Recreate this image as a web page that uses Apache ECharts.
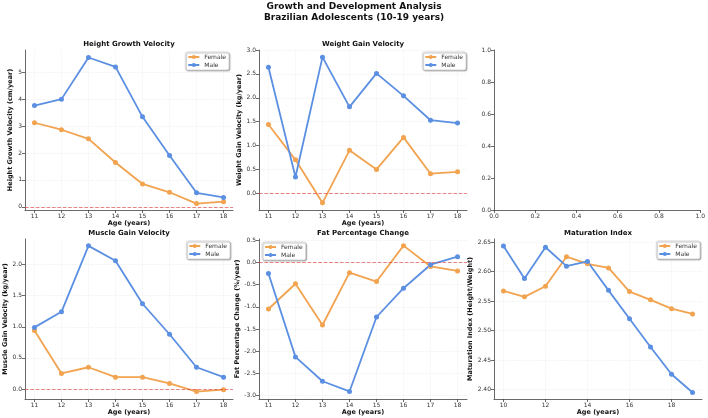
<!DOCTYPE html>
<html>
<head>
<meta charset="UTF-8">
<title>Growth and Development Analysis</title>
<style>
  html, body { margin:0; padding:0; background:#fff; }
  #main { width:708px; height:418px; }
</style>
</head>
<body>
<div id="main"></div>
<script src="https://cdn.jsdelivr.net/npm/echarts@6/dist/echarts.min.js"></script>
<script>
// ages on the x axis
var ages = [11, 12, 13, 14, 15, 16, 17, 18];
var agesMat = [10, 11, 12, 13, 14, 15, 16, 17, 18, 19];

// values
var heightFemale = [3.13, 2.87, 2.53, 1.65, 0.85, 0.54, 0.12, 0.19];
var heightMale   = [3.77, 4.01, 5.56, 5.21, 3.35, 1.91, 0.52, 0.35];
var weightFemale = [1.44, 0.70, -0.20, 0.90, 0.50, 1.17, 0.41, 0.45];
var weightMale   = [2.64, 0.34, 2.85, 1.81, 2.51, 2.04, 1.53, 1.47];
var muscleFemale = [0.94, 0.25, 0.35, 0.19, 0.19, 0.09, -0.04, -0.01];
var muscleMale   = [0.99, 1.24, 2.30, 2.06, 1.37, 0.88, 0.35, 0.19];
var fatFemale    = [-1.05, -0.48, -1.41, -0.23, -0.43, 0.38, -0.09, -0.19];
var fatMale      = [-0.25, -2.13, -2.68, -2.91, -1.23, -0.58, -0.05, 0.13];
var matFemale    = [2.567, 2.557, 2.575, 2.625, 2.613, 2.606, 2.566, 2.552, 2.537, 2.528];
var matMale      = [2.643, 2.588, 2.641, 2.609, 2.617, 2.568, 2.520, 2.472, 2.426, 2.395];

// tick labels
var xTicks       = [11, 12, 13, 14, 15, 16, 17, 18];
var xTicksMat    = [10, 12, 14, 16, 18];
var unitTicks    = [0, 0.2, 0.4, 0.6, 0.8, 1.0];
var yTicksHeight = [0, 1, 2, 3, 4, 5];
var yTicksWeight = [0, 0.5, 1.0, 1.5, 2.0, 2.5, 3.0];
var yTicksMuscle = [0, 0.5, 1.0, 1.5, 2.0];
var yTicksFat    = [-3.0, -2.5, -2.0, -1.5, -1.0, -0.5, 0, 0.5];
var yTicksMat    = [2.40, 2.45, 2.50, 2.55, 2.60, 2.65];

var FEMALE = '#F2A34F';
var MALE = '#5B8FE2';
var FONT = 'DejaVu Sans';

function pairs(xs, ys) {
  return xs.map(function (x, i) { return [x, ys[i]]; });
}

// grid boxes in px
var colLeft = [25, 259, 494];
var rowTop = [50, 239];
var gw = 208, gh = 160;

// legend: {right} or {left} offset, top
var panels = [
  { title: 'Height Growth Velocity', yName: 'Height Growth Velocity (cm/year)', f: heightFemale, m: heightMale,
    x: ages, xt: xTicks, xmin: 10.65, xmax: 18.35, yt: yTicksHeight, ymin: -0.12, ymax: 5.84, dec: 0, zero: true, gap: 9,
    legend: { right: 479, top: 52 } },
  { title: 'Weight Gain Velocity', yName: 'Weight Gain Velocity (kg/year)', f: weightFemale, m: weightMale,
    x: ages, xt: xTicks, xmin: 10.65, xmax: 18.35, yt: yTicksWeight, ymin: -0.35, ymax: 3.0, dec: 1, zero: true, gap: 13,
    legend: { right: 242, top: 52 } },
  null,
  { title: 'Muscle Gain Velocity', yName: 'Muscle Gain Velocity (kg/year)', f: muscleFemale, m: muscleMale,
    x: ages, xt: xTicks, xmin: 10.65, xmax: 18.35, yt: yTicksMuscle, ymin: -0.16, ymax: 2.41, dec: 1, zero: true, gap: 13,
    legend: { right: 478, top: 241 } },
  { title: 'Fat Percentage Change', yName: 'Fat Percentage Change (%/year)', f: fatFemale, m: fatMale,
    x: ages, xt: xTicks, xmin: 10.65, xmax: 18.35, yt: yTicksFat, ymin: -3.08, ymax: 0.53, dec: 1, zero: true, gap: 14,
    legend: { left: 262, top: 242 } },
  { title: 'Maturation Index', yName: 'Maturation Index (Height/Weight)', f: matFemale, m: matMale,
    x: agesMat, xt: xTicksMat, xmin: 9.55, xmax: 19.45, yt: yTicksMat, ymin: 2.384, ymax: 2.655, dec: 2, zero: false, gap: 15,
    legend: { right: 8, top: 241 } }
];

function axisLine() { return { show: true, onZero: false, lineStyle: { color: '#444', width: 0.8 } }; }
function axisTick(vals) { return { show: true, customValues: vals, length: 3, lineStyle: { color: '#444', width: 0.8 } }; }
function gridLine() { return { show: true, lineStyle: { color: '#e8e8e8', width: 0.6, type: 'dotted' } }; }
function tickLabel(vals, dec) {
  return { customValues: vals, fontFamily: FONT, fontSize: 6, color: '#333', margin: 3,
    formatter: function (v) { return dec == null ? String(v) : Number(v).toFixed(dec); } };
}

var grids = [], xAxes = [], yAxes = [], series = [], legends = [];
var titles = [{
  text: 'Growth and Development Analysis\nBrazilian Adolescents (10-19 years)',
  left: 'center', top: 1, padding: 0,
  textStyle: { fontFamily: FONT, fontSize: 9, fontWeight: 'bold', color: '#111', lineHeight: 11 }
}];

for (var i = 0; i < 6; i++) {
  var gx = colLeft[i % 3], gy = rowTop[Math.floor(i / 3)];
  grids.push({ left: gx, top: gy, width: gw, height: gh });
  var p = panels[i];
  if (!p) {
    // leftover empty axes
    xAxes.push({ type: 'value', gridIndex: i, min: 0, max: 1, axisLine: axisLine(), axisTick: axisTick(unitTicks),
      axisLabel: tickLabel(unitTicks, 1), splitLine: { show: false } });
    yAxes.push({ type: 'value', gridIndex: i, min: 0, max: 1, axisLine: axisLine(), axisTick: axisTick(unitTicks),
      axisLabel: tickLabel(unitTicks, 1), splitLine: { show: false } });
    continue;
  }
  titles.push({ text: p.title, left: gx + gw / 2, top: gy - 9, textAlign: 'center', padding: 0,
    textStyle: { fontFamily: FONT, fontSize: 7, fontWeight: 'bold', color: '#111' } });
  xAxes.push({ type: 'value', gridIndex: i, min: p.xmin, max: p.xmax,
    name: 'Age (years)', nameLocation: 'middle', nameGap: 10,
    nameTextStyle: { fontFamily: FONT, fontSize: 6.5, fontWeight: 'bold', color: '#111' },
    axisLine: axisLine(), axisTick: axisTick(p.xt), axisLabel: tickLabel(p.xt, null), splitLine: gridLine() });
  yAxes.push({ type: 'value', gridIndex: i, min: p.ymin, max: p.ymax,
    name: p.yName, nameLocation: 'middle', nameGap: p.gap,
    nameTextStyle: { fontFamily: FONT, fontSize: 6.5, fontWeight: 'bold', color: '#111' },
    axisLine: axisLine(), axisTick: axisTick(p.yt), axisLabel: tickLabel(p.yt, p.dec), splitLine: gridLine() });
  var fem = { name: 'Female', type: 'line', xAxisIndex: i, yAxisIndex: i, data: pairs(p.x, p.f),
    symbol: 'circle', symbolSize: 5, itemStyle: { color: FEMALE }, lineStyle: { color: FEMALE, width: 1.8 }, z: 3 };
  if (p.zero) {
    // dashed zero reference line
    fem.markLine = { silent: true, symbol: ['none', 'none'], label: { show: false },
      lineStyle: { color: 'rgba(220,60,60,0.7)', type: 'dashed', width: 0.9 },
      data: [{ yAxis: 0 }] };
  }
  series.push(fem);
  series.push({ name: 'Male', type: 'line', xAxisIndex: i, yAxisIndex: i, data: pairs(p.x, p.m),
    symbol: 'circle', symbolSize: 5, itemStyle: { color: MALE }, lineStyle: { color: MALE, width: 1.8 }, z: 3 });
  var lg = { orient: 'vertical', top: p.legend.top, data: ['Female', 'Male'],
    itemWidth: 11, itemHeight: 5, itemGap: 2, padding: [2, 3, 2, 2],
    backgroundColor: '#fff', borderColor: '#cfcfcf', borderWidth: 0.8, borderRadius: 2,
    shadowColor: 'rgba(0,0,0,0.3)', shadowBlur: 1, shadowOffsetX: 1, shadowOffsetY: 1,
    textStyle: { fontFamily: FONT, fontSize: 6, color: '#333' } };
  if (p.legend.right != null) lg.right = p.legend.right; else lg.left = p.legend.left;
  legends.push(lg);
}

var myChart = echarts.init(document.getElementById('main'));
myChart.setOption({
  backgroundColor: '#fff',
  animation: false,
  title: titles,
  legend: legends,
  grid: grids,
  xAxis: xAxes,
  yAxis: yAxes,
  series: series
});
</script>
</body>
</html>
